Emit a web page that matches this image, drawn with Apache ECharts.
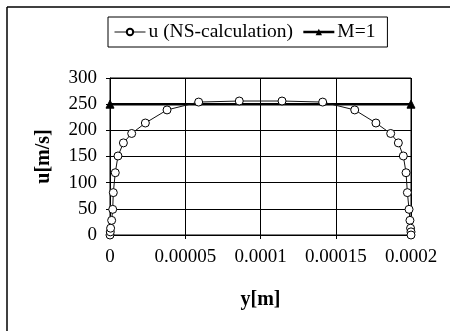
<!DOCTYPE html>
<html>
<head>
<meta charset="utf-8">
<script src="https://cdn.jsdelivr.net/npm/echarts@6/dist/echarts.min.js"></script>
<style>
html,body{margin:0;padding:0;background:#fff;}
#c{width:450px;height:331px;}
</style>
</head>
<body>
<div id="c"></div>
<script>
// Data
var yPos = [0, 0.0000002, 0.0000004, 0.0000011, 0.0000018, 0.0000022, 0.0000035, 0.0000053, 0.0000089, 0.0000144, 0.0000235, 0.0000379, 0.0000589, 0.0000859,
            0.0001143, 0.0001413, 0.0001626, 0.0001767, 0.0001865, 0.0001916, 0.0001949, 0.0001967, 0.0001976, 0.0001987, 0.0001993, 0.0001997, 0.0002, 0.0002];
var uNS = [0, 6, 13, 28, 49, 81, 119, 151, 176, 194, 214, 239, 254, 256,
           256, 254, 239, 214, 194, 176, 151, 119, 81, 49, 28, 13, 6, 0];
var mPos = [0, 0.0002];
var mVal = [250, 250];
var xTickLabels = ['0', '0.00005', '0.0001', '0.00015', '0.0002'];
var seriesNames = ['u (NS-calculation)', 'M=1'];

var FONT = 'Liberation Serif';
var chart = echarts.init(document.getElementById('c'), null, {renderer: 'canvas'});
function pairs(xs, ys) { return xs.map(function (x, i) { return [x, ys[i]]; }); }

chart.setOption({
  animation: false,
  backgroundColor: '#fff',
  textStyle: {fontFamily: FONT, color: '#000'},
  graphic: [
    {type: 'line', shape: {x1: 7, y1: 7, x2: 450, y2: 7}, style: {stroke: '#000', lineWidth: 1.5}},
    {type: 'line', shape: {x1: 7, y1: 7, x2: 7, y2: 331}, style: {stroke: '#000', lineWidth: 1.5}}
  ],
  legend: {
    left: 108, top: 17,
    padding: [5, 12, 5, 6],
    itemGap: 9,
    itemWidth: 31, itemHeight: 8,
    borderColor: '#000', borderWidth: 1,
    textStyle: {fontFamily: FONT, fontSize: 19.5, color: '#000', padding: [0, 0, 0, -2]},
    data: [
      {name: seriesNames[0], lineStyle: {width: 1}},
      {name: seriesNames[1], lineStyle: {width: 2.5}}
    ]
  },
  grid: {left: 110, right: 39, top: 78, bottom: 96, show: true, borderColor: '#000', borderWidth: 1},
  xAxis: {
    type: 'value', min: 0, max: 0.0002, interval: 0.00005,
    name: 'y[m]', nameLocation: 'middle', nameGap: 55,
    nameTextStyle: {fontFamily: FONT, fontSize: 20, fontWeight: 'bold', color: '#000'},
    axisLine: {lineStyle: {color: '#000', width: 1}},
    axisTick: {show: true, inside: false, length: 4, lineStyle: {color: '#000'}},
    splitLine: {show: true, lineStyle: {color: '#000', width: 1}},
    axisLabel: {fontFamily: FONT, fontSize: 19, color: '#000', margin: 13,
      formatter: function (v) { return xTickLabels[Math.round(v / 0.00005)]; }}
  },
  yAxis: {
    type: 'value', min: 0, max: 300, interval: 50,
    name: 'u[m/s]', nameLocation: 'middle', nameGap: 56, nameRotate: 90,
    nameTextStyle: {fontFamily: FONT, fontSize: 20, fontWeight: 'bold', color: '#000'},
    axisLine: {show: true, lineStyle: {color: '#000', width: 1}},
    axisTick: {show: true, inside: false, length: 4, lineStyle: {color: '#000'}},
    splitLine: {show: true, lineStyle: {color: '#000', width: 1}},
    axisLabel: {fontFamily: FONT, fontSize: 19, color: '#000', margin: 13}
  },
  series: [
    {
      name: seriesNames[0], type: 'line', data: pairs(yPos, uNS),
      symbol: 'circle', symbolSize: 8, showAllSymbol: true,
      lineStyle: {color: '#111', width: 1},
      itemStyle: {color: '#fff', borderColor: '#000', borderWidth: 1},
      z: 3
    },
    {
      name: seriesNames[1], type: 'line', data: pairs(mPos, mVal),
      symbol: 'triangle', symbolSize: 8,
      lineStyle: {color: '#000', width: 2.5},
      itemStyle: {color: '#000', borderColor: '#000'},
      z: 2
    }
  ]
});
</script>
</body>
</html>
